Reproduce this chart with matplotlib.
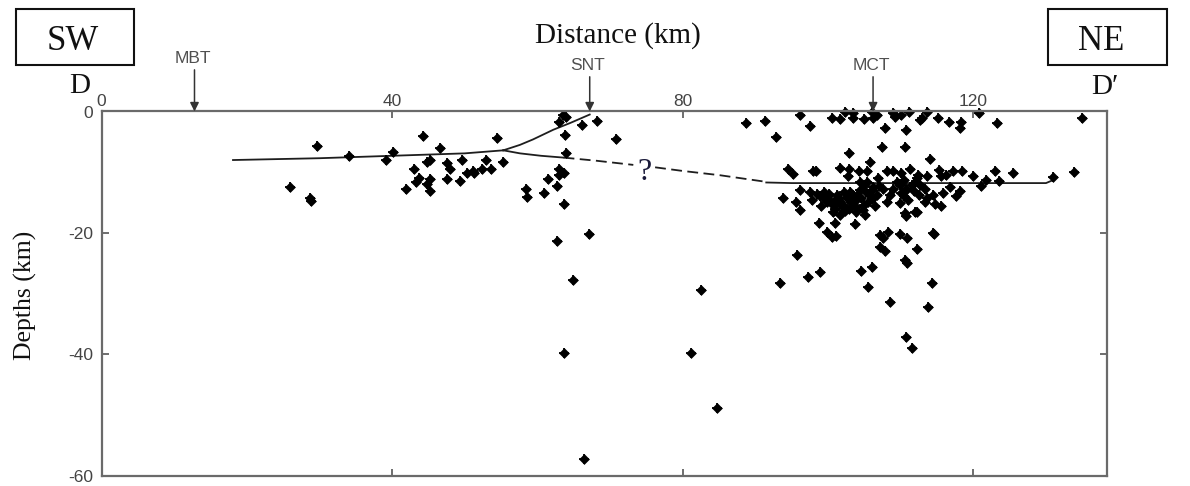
import matplotlib
matplotlib.use("Agg")
import matplotlib.pyplot as plt
from matplotlib.patches import Rectangle

plt.rcParams['axes.unicode_minus'] = False

# ---------------- data ----------------
distance_km = [
    29.6, 25.9, 28.7, 28.9, 34.0, 39.2, 40.1, 44.3, 46.6, 43.0, 44.8, 45.2, 43.7, 43.3, 45.2, 44.8,
    41.9, 45.2, 47.6, 48.0, 47.5, 49.6, 49.3, 50.3, 51.1, 51.3, 52.4, 52.9, 53.6, 54.5, 55.2, 58.4, 58.5,
    63.0, 63.5, 64.0, 66.1, 68.2, 63.8, 70.8, 64.0, 63.0, 63.6, 63.0, 61.5, 62.7, 60.9, 63.6, 67.1,
    62.7, 64.9, 82.5, 63.6, 81.2, 84.7, 66.4,
    88.7, 91.3, 96.1, 97.5, 92.9, 100.6, 101.7, 102.3, 103.5, 103.5, 104.9, 106.0, 106.2, 106.7,
    108.9, 109.2, 110.1, 111.1, 112.6, 113.0, 113.6, 115.2, 116.7, 118.3, 118.1, 120.8, 123.3, 134.9,
    107.8, 110.8, 107.4, 110.6, 102.9, 105.8, 114.1,
    94.5, 95.2, 97.9, 98.4, 101.7, 102.9, 102.8, 104.2, 105.3, 106.9, 108.1, 108.9, 110.1, 111.3,
    112.2, 112.4, 113.6, 115.3, 115.6, 116.3, 117.2, 118.4, 119.9, 121.7, 123.0, 123.6, 125.4, 130.9,
    133.9, 121.1, 116.8,
    93.8, 96.1, 95.6, 96.1, 97.5, 97.8, 98.9, 99.4, 99.8, 100.7, 101.2, 101.7, 102.3, 102.6, 103.3,
    103.5, 103.9, 104.4, 104.9, 104.9, 104.4, 105.3, 106.2, 105.8, 106.7, 107.6, 108.1, 109.0, 109.9,
    110.1, 110.8, 111.5, 109.9, 110.6, 112.2, 100.7, 101.7, 103.9, 105.1, 98.7, 101.0, 103.7, 110.8,
    110.4, 111.8, 112.7, 110.8, 111.9, 113.3, 110.4, 113.6, 113.3, 114.5, 115.8, 118.2, 117.6, 114.7,
    115.5, 112.0, 114.5,
    100.0, 101.5, 102.0, 100.2, 102.9, 99.0, 104.0, 106.0, 107.0, 103.0, 105.5,
    98.5, 99.6, 100.4, 101.0, 101.9, 102.4, 103.1, 103.8, 104.6, 105.2, 106.1, 102.2, 100.9, 104.8,
    106.5, 108.5, 111.0, 112.5, 109.5,
    99.8, 100.5, 101.1, 107.2, 107.6, 108.3, 109.9, 110.9, 114.6, 107.2, 107.8, 112.3, 95.7, 110.6,
    110.9, 106.0, 104.6, 98.9, 97.3, 93.4, 105.5, 114.3, 108.5, 113.8, 110.8, 111.5,
]
depth_km = [
    -5.7, -12.5, -14.3, -14.7, -7.3, -8.0, -6.7, -4.1, -6.0, -9.5, -8.4, -8.0, -10.9, -11.7, -11.1, -11.9,
    -12.8, -13.1, -8.5, -9.4, -11.1, -8.0, -11.5, -10.2, -9.8, -10.1, -9.4, -8.0, -9.5, -4.4, -8.3, -12.8, -14.1,
    -1.7, -0.5, -0.9, -2.2, -1.5, -3.8, -4.6, -6.9, -9.5, -10.2, -10.5, -11.1, -12.2, -13.5, -15.3, -20.2,
    -21.3, -27.8, -29.4, -39.8, -39.8, -48.8, -57.2,
    -1.9, -1.5, -0.6, -2.4, -4.2, -1.1, -1.3, -0.1, -1.1, -0.2, -1.3, -0.1, -1.1, -0.6,
    -0.2, -0.9, -0.6, -0.1, -1.4, -1.1, -0.1, -1.1, -1.7, -1.7, -2.7, -0.3, -1.9, -1.1,
    -2.8, -3.0, -5.8, -5.8, -6.9, -8.3, -7.9,
    -9.4, -10.3, -9.8, -9.8, -9.3, -9.4, -10.6, -9.8, -9.8, -11.0, -9.8, -9.8, -10.1, -9.4,
    -11.0, -10.5, -10.7, -9.6, -10.7, -10.5, -9.8, -9.8, -10.6, -11.3, -9.8, -11.4, -10.1, -10.8,
    -10.0, -12.3, -12.4,
    -14.2, -12.9, -14.9, -16.2, -13.2, -14.6, -14.0, -13.2, -14.9, -15.4, -13.8, -14.9, -15.9, -14.3, -15.1,
    -13.8, -14.6, -12.9, -12.1, -15.4, -11.6, -11.6, -12.4, -13.8, -13.8, -12.7, -14.9, -12.7, -12.1,
    -13.5, -12.7, -12.1, -15.1, -16.8, -16.5, -16.5, -17.1, -16.5, -17.1, -18.4, -18.3, -18.6, -17.3,
    -11.3, -11.8, -12.1, -12.9, -13.1, -12.7, -14.0, -14.3, -14.9, -13.8, -13.5, -13.1, -14.0, -15.3,
    -15.6, -16.6, -20.1,
    -14.0, -14.3, -15.4, -13.6, -16.0, -15.5, -14.0, -12.9, -12.2, -13.2, -15.0,
    -13.6, -14.4, -15.0, -14.6, -15.6, -16.4, -14.7, -15.8, -14.3, -13.2, -14.5, -13.3, -16.0, -16.2,
    -15.6, -13.8, -14.6, -13.8, -11.6,
    -19.8, -20.7, -20.5, -20.3, -20.8, -19.9, -20.2, -20.9, -20.2, -22.3, -23.0, -22.7, -23.6, -24.5,
    -24.9, -25.6, -26.3, -26.5, -27.2, -28.3, -29.0, -28.3, -31.4, -32.2, -37.2, -39.0,
]

# interpreted fault traces
flat_x = [18.1, 30.0, 40.0, 50.0, 55.3]
flat_y = [-8.0, -7.7, -7.3, -6.9, -6.4]
snt_x = [55.3, 57.6, 59.4, 62.2, 64.5, 67.2]
snt_y = [-6.4, -5.5, -4.6, -3.0, -1.9, -0.5]
branch_x = [55.3, 57.6, 60.5, 63.6]
branch_y = [-6.4, -6.9, -7.3, -7.6]
dash1_x = [63.6, 68.0, 73.2]
dash1_y = [-7.6, -8.1, -8.8]
dash2_x = [76.2, 80.0, 85.1, 91.5]
dash2_y = [-9.2, -9.8, -10.5, -11.6]
mct_x = [91.5, 95.0, 100.0, 110.0, 120.0, 130.0, 130.8]
mct_y = [-11.7, -11.8, -11.8, -11.8, -11.8, -11.8, -11.4]

fault_names = ['MBT', 'SNT', 'MCT']
fault_km = [12.8, 67.2, 106.2]
arrow_len_pt = [30, 25, 25]
label_off_pt = [33, 28, 28]

x_ticks = [0, 40, 80, 120]
y_ticks = [0, -20, -40, -60]

# ---------------- figure ----------------
W, H = 1190, 486
fig = plt.figure(figsize=(W / 100, H / 100), dpi=100)

def fx(px):
    return px / W

def fy(py):
    return 1 - py / H

left_px, right_px, top_px, bot_px = 101.5, 1107, 111.5, 475.5
ax = fig.add_axes([fx(left_px), fy(bot_px), fx(right_px - left_px), (bot_px - top_px) / H])

ax.set_xlim(0, 138.4)
ax.set_ylim(-60, 0)

lc = '#1e1e1e'
ax.plot(flat_x, flat_y, color=lc, lw=1.3)
ax.plot(snt_x, snt_y, color=lc, lw=1.3)
ax.plot(branch_x, branch_y, color=lc, lw=1.3)
ax.plot(dash1_x, dash1_y, color=lc, lw=1.3, dashes=(6, 3))
ax.plot(dash2_x, dash2_y, color=lc, lw=1.3, dashes=(6, 3))
ax.plot(mct_x, mct_y, color=lc, lw=1.3)

ax.plot(distance_km, depth_km, linestyle='none', marker='D', ms=4.6,
        color='black', mec='black', mew=0.4, clip_on=False)
ax.plot(distance_km, depth_km, linestyle='none', marker='+', ms=7,
        color='black', mew=1.3, clip_on=False)

ax.text(74.8, -10.0, '?', family='Liberation Serif', fontsize=23, color='#1a1a3a',
        ha='center', va='center')

# ticks
ax.set_xticks(x_ticks)
ax.set_xticklabels([str(v) for v in x_ticks])
ax.set_yticks(y_ticks)
ax.set_yticklabels([str(v) for v in y_ticks])
ax.tick_params(axis='x', which='both', direction='in', top=True, bottom=True,
               labeltop=True, labelbottom=False, length=5, width=1.2, color='#555555',
               labelsize=12.5, labelcolor='#444444', pad=1.5)
ax.tick_params(axis='y', which='both', direction='in', left=True, right=True,
               labelleft=True, labelright=False, length=5, width=1.2, color='#555555',
               labelsize=12.5, labelcolor='#444444', pad=6)
for lab in ax.get_xticklabels() + ax.get_yticklabels():
    lab.set_family('Liberation Sans')
for sp in ax.spines.values():
    sp.set_color('#6a6a6a')
    sp.set_linewidth(1.6)

# fault arrows and labels
for name, xk, alen, loff in zip(fault_names, fault_km, arrow_len_pt, label_off_pt):
    ax.annotate('', xy=(xk, 0), xycoords='data', xytext=(0, alen), textcoords='offset points',
                arrowprops=dict(arrowstyle='-|>', color='#333333', lw=1.1, mutation_scale=13,
                                shrinkA=0, shrinkB=0), annotation_clip=False)
    ax.annotate(name, xy=(xk, 0), xycoords='data', xytext=(-1.5, loff), textcoords='offset points',
                ha='center', va='bottom', fontsize=12.5, color='#505050',
                family='Liberation Sans', annotation_clip=False)

# titles / labels
serif = 'Liberation Serif'
fig.text(fx(618), fy(36), 'Distance (km)', family=serif, fontsize=21, ha='center', va='center',
         color='#111111')
fig.text(fx(25), fy(295), 'Depths (km)', family=serif, fontsize=18.5, ha='center', va='center',
         rotation=90, color='#111111')
fig.text(fx(80), fy(86), 'D', family=serif, fontsize=21, ha='center', va='center', color='#111111')
fig.text(fx(1105), fy(87), 'D\u2032', family=serif, fontsize=21, ha='center', va='center',
         color='#111111')

# SW / NE boxes
for x0, x1, label, cx in [(16, 134, 'SW', 73), (1048, 1167, 'NE', 1101)]:
    fig.patches.append(Rectangle((fx(x0), fy(65)), fx(x1 - x0), (65 - 9.5) / H,
                                 transform=fig.transFigure, fill=False, edgecolor='#111111',
                                 lw=1.5))
    fig.text(fx(cx), fy(41), label, family=serif, fontsize=25, ha='center', va='center',
             color='#111111')

fig.savefig('out.png', dpi=100)
